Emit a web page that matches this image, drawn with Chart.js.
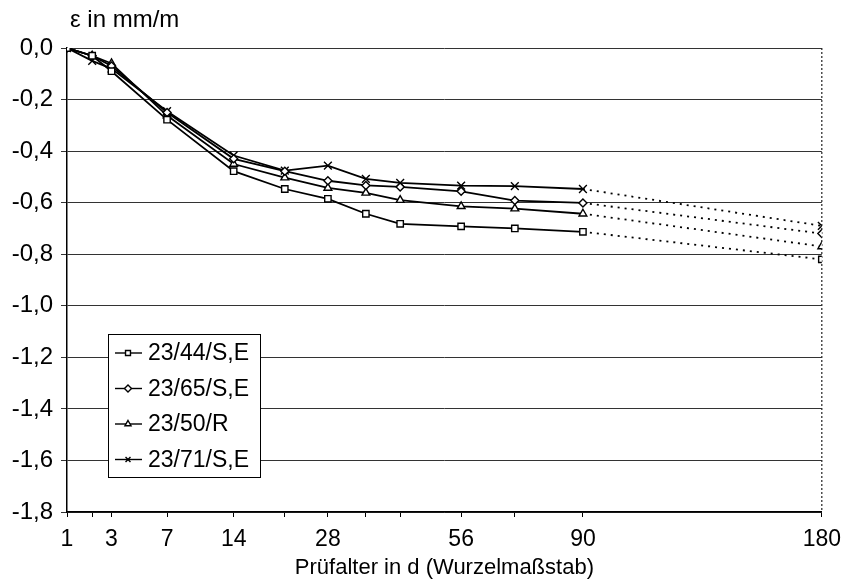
<!DOCTYPE html>
<html>
<head>
<meta charset="utf-8">
<script src="https://cdn.jsdelivr.net/npm/chart.js@4.4.1/dist/chart.umd.min.js"></script>
<style>
    html, body { margin: 0; padding: 0; background: #fff; }
    #wrap { width: 850px; height: 588px; }
</style>
</head>
<body>
<div id="wrap"><canvas id="strainChart"></canvas></div>
<script>
// Prüfalter in Tagen, x-Achse im Wurzelmaßstab
const days = [1, 2, 3, 7, 14, 21, 28, 35, 42, 56, 70, 90, 180];
const labeledDays = [1, 3, 7, 14, 28, 56, 90, 180];
const yTicks = [0, -0.2, -0.4, -0.6, -0.8, -1.0, -1.2, -1.4, -1.6, -1.8];

const seriesNames = ['23/44/S,E', '23/65/S,E', '23/50/R', '23/71/S,E'];
const strain44 = [0, -0.03, -0.09, -0.278, -0.478, -0.547, -0.585, -0.643, -0.682, -0.692, -0.70, -0.713, -0.82];
const strain65 = [0, -0.03, -0.07, -0.25, -0.43, -0.478, -0.515, -0.533, -0.539, -0.556, -0.592, -0.601, -0.72];
const strain50 = [0, -0.03, -0.06, -0.262, -0.45, -0.503, -0.543, -0.562, -0.59, -0.614, -0.623, -0.643, -0.77];
const strain71 = [0, -0.05, -0.08, -0.245, -0.417, -0.476, -0.456, -0.508, -0.523, -0.534, -0.536, -0.547, -0.69];

const FONT = 'Liberation Sans, Arial, sans-serif';

function toPoints(values) {
    return values.map((v, i) => ({ x: Math.sqrt(days[i]), y: v }));
}

function makeDataset(label, values, style) {
    return {
        label: label,
        data: toPoints(values),
        borderColor: '#000',
        backgroundColor: '#fff',
        borderWidth: 1.8,
        pointStyle: style,
        pointRadius: style === 'crossRot' ? 5.5 : (style === 'rectRot' ? 4 : 4.5),
        pointBorderWidth: 1.4,
        pointBorderColor: '#000',
        pointBackgroundColor: '#fff',
        tension: 0,
        segment: {
            // Extrapolation 90 -> 180 d gepunktet
            borderDash: ctx => ctx.p1DataIndex === days.length - 1 ? [2, 5] : undefined
        }
    };
}

const lineData = {
    datasets: [
        makeDataset(seriesNames[0], strain44, 'rect'),
        makeDataset(seriesNames[1], strain65, 'rectRot'),
        makeDataset(seriesNames[2], strain50, 'triangle'),
        makeDataset(seriesNames[3], strain71, 'crossRot')
    ]
};

// Achsentitel oben links, rechter Rahmen gepunktet, Legende im Diagramm
const framePlugin = {
    id: 'frame',
    beforeDatasetsDraw(chart) {
        const ctx = chart.ctx;
        const area = chart.chartArea;
        ctx.save();
        ctx.strokeStyle = '#222';
        ctx.lineWidth = 1.2;
        ctx.setLineDash([2, 2]);
        ctx.beginPath();
        ctx.moveTo(area.right, area.top);
        ctx.lineTo(area.right, area.bottom);
        ctx.stroke();
        ctx.restore();
    },
    afterDraw(chart) {
        const ctx = chart.ctx;
        const area = chart.chartArea;
        ctx.save();
        ctx.fillStyle = '#000';
        ctx.font = '24px ' + FONT;
        ctx.textAlign = 'left';
        ctx.textBaseline = 'middle';
        ctx.fillText('ε in mm/m', area.left + 3, 20);

        // Legende
        const boxX = area.left + 41;
        const boxY = area.top + 286;
        const boxW = 152;
        const boxH = 143;
        ctx.fillStyle = '#fff';
        ctx.fillRect(boxX, boxY, boxW, boxH);
        ctx.strokeStyle = '#000';
        ctx.lineWidth = 1;
        ctx.strokeRect(boxX + 0.5, boxY + 0.5, boxW, boxH);

        chart.data.datasets.forEach((ds, i) => {
            const rowY = boxY + 19 + i * 35.5;
            ctx.strokeStyle = '#000';
            ctx.lineWidth = 1.4;
            ctx.beginPath();
            ctx.moveTo(boxX + 7, rowY);
            ctx.lineTo(boxX + 34, rowY);
            ctx.stroke();
            ctx.fillStyle = '#fff';
            Chart.helpers.drawPoint(ctx, {
                pointStyle: ds.pointStyle,
                radius: 3.5,
                rotation: 0,
                borderWidth: 1
            }, boxX + 20, rowY);
            ctx.fillStyle = '#000';
            ctx.font = '23px ' + FONT;
            ctx.textAlign = 'left';
            ctx.textBaseline = 'middle';
            ctx.fillText(ds.label, boxX + 40, rowY + 1);
        });
        ctx.restore();
    }
};

const lineConfig = {
    type: 'line',
    data: lineData,
    options: {
        responsive: true,
        maintainAspectRatio: false,
        animation: false,
        layout: {
            padding: { top: 48, right: 20, left: 0, bottom: 0 }
        },
        plugins: {
            legend: { display: false },
            title: { display: false },
            tooltip: { enabled: false }
        },
        scales: {
            x: {
                type: 'linear',
                min: 1,
                max: Math.sqrt(180),
                afterBuildTicks: scale => {
                    scale.ticks = days.map(d => ({ value: Math.sqrt(d) }));
                },
                afterFit: scale => { scale.height = 76; },
                ticks: {
                    autoSkip: false,
                    maxRotation: 0,
                    color: '#000',
                    padding: 9,
                    font: { family: FONT, size: 23 },
                    callback: v => {
                        const d = Math.round(v * v);
                        return labeledDays.includes(d) ? String(d) : '';
                    }
                },
                grid: {
                    drawOnChartArea: false,
                    tickLength: 5,
                    color: '#000'
                },
                border: { color: '#000', width: 1.5 },
                title: {
                    display: true,
                    text: 'Prüfalter in d (Wurzelmaßstab)',
                    color: '#000',
                    font: { family: FONT, size: 22 },
                    padding: { top: 0, bottom: 7 }
                }
            },
            y: {
                min: -1.8,
                max: 0,
                afterBuildTicks: scale => {
                    scale.ticks = yTicks.map(v => ({ value: v }));
                },
                afterFit: scale => { scale.width = 67; },
                ticks: {
                    color: '#000',
                    padding: 8,
                    font: { family: FONT, size: 24 },
                    callback: v => v.toFixed(1).replace('.', ',')
                },
                grid: {
                    color: '#333',
                    lineWidth: 1,
                    tickLength: 6
                },
                border: { color: '#000', width: 1.5 }
            }
        }
    },
    plugins: [framePlugin]
};

const strainChart = new Chart(
    document.getElementById('strainChart'),
    lineConfig
);
</script>
</body>
</html>
